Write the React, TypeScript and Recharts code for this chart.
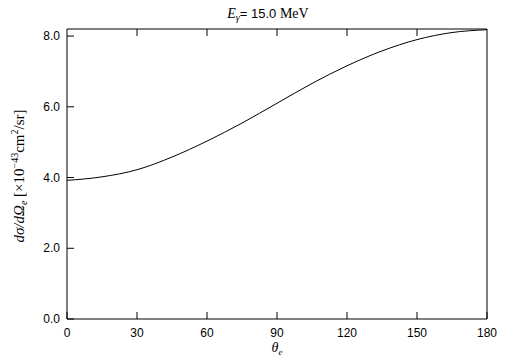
import { LineChart, Line, XAxis, YAxis } from "recharts";

const thetaDeg = [0, 15, 30, 45, 60, 75, 90, 105, 120, 135, 150, 165, 180];
const crossSection = [3.92, 4.02, 4.22, 4.58, 5.03, 5.54, 6.1, 6.66, 7.16, 7.58, 7.9, 8.1, 8.18];
const xTicks = [0, 30, 60, 90, 120, 150, 180];
const yTicks = [0, 2, 4, 6, 8];

const data = thetaDeg.map((t, i) => ({ theta: t, value: crossSection[i] }));

const sans = "'Liberation Sans', Arial, sans-serif";
const serif = "'Liberation Serif', 'Times New Roman', serif";
const tickLen = 7;

function BottomTick({ x, y, payload }: any) {
  return (
    <g>
      <line x1={x} y1={y} x2={x} y2={y - tickLen} stroke="#000" />
      <text x={x} y={y + 18} textAnchor="middle" fontFamily={sans} fontSize={12} fill="#000">
        {payload.value}
      </text>
    </g>
  );
}

function TopTick({ x, y }: any) {
  return <line x1={x} y1={y} x2={x} y2={y + tickLen} stroke="#000" />;
}

function LeftTick({ x, y, payload }: any) {
  return (
    <g>
      <line x1={x} y1={y} x2={x + tickLen} y2={y} stroke="#000" />
      <text x={x - 7} y={y + 4} textAnchor="end" fontFamily={sans} fontSize={12} fill="#000">
        {Number(payload.value).toFixed(1)}
      </text>
    </g>
  );
}

function RightTick({ x, y }: any) {
  return <line x1={x} y1={y} x2={x - tickLen} y2={y} stroke="#000" />;
}

function Title({ viewBox }: any) {
  const cx = viewBox.x + viewBox.width / 2 - 9;
  return (
    <text x={cx} y={18} textAnchor="middle" fontSize={13} fill="#000">
      <tspan fontFamily={serif} fontStyle="italic" fontSize={14}>E</tspan>
      <tspan fontFamily={serif} fontStyle="italic" fontSize={10} dy={3}>γ</tspan>
      <tspan fontFamily={sans} dy={-3}>= 15.0 </tspan>
      <tspan fontFamily={serif} fontSize={14}>MeV</tspan>
    </text>
  );
}

function XTitle({ viewBox }: any) {
  const cx = viewBox.x + viewBox.width / 2;
  return (
    <text x={cx} y={352} textAnchor="middle" fill="#000" fontFamily={serif} fontStyle="italic">
      <tspan fontSize={14}>θ</tspan>
      <tspan fontSize={9} dy={3}>e</tspan>
    </text>
  );
}

function YTitle() {
  const cy = 176;
  const cx = 24;
  return (
    <text
      x={cx}
      y={cy}
      transform={`rotate(-90 ${cx} ${cy})`}
      textAnchor="middle"
      fill="#000"
      fontFamily={serif}
      fontSize={15}
    >
      <tspan fontStyle="italic">dσ/dΩ</tspan>
      <tspan fontStyle="italic" fontSize={10} dy={3}>e</tspan>
      <tspan dy={-3}> [×10</tspan>
      <tspan fontSize={10} dy={-6}>−43</tspan>
      <tspan dy={6}>cm</tspan>
      <tspan fontSize={10} dy={-6}>2</tspan>
      <tspan dy={6}>/sr]</tspan>
    </text>
  );
}

export default function App() {
  return (
    <div style={{ position: "absolute", left: 0, top: 0, width: 505, height: 361, background: "#fff" }}>
      <LineChart width={505} height={361} data={data} margin={{ top: 0, right: 0, bottom: 0, left: 0 }}>
        <XAxis
          xAxisId="b"
          dataKey="theta"
          type="number"
          domain={[0, 180]}
          ticks={xTicks}
          orientation="bottom"
          height={42}
          tickSize={0}
          tickMargin={0}
          tickLine={false}
          axisLine={{ stroke: "#000" }}
          tick={<BottomTick />}
          label={<XTitle />}
          interval={0}
        />
        <XAxis
          xAxisId="t"
          dataKey="theta"
          type="number"
          domain={[0, 180]}
          ticks={xTicks.slice(1, -1)}
          orientation="top"
          height={29}
          tickSize={0}
          tickMargin={0}
          tickLine={false}
          axisLine={{ stroke: "#000" }}
          tick={<TopTick />}
          label={<Title />}
          interval={0}
        />
        <YAxis
          yAxisId="l"
          type="number"
          domain={[0, 8.2]}
          ticks={yTicks}
          width={67}
          tickSize={0}
          tickMargin={0}
          tickLine={false}
          axisLine={{ stroke: "#000" }}
          tick={<LeftTick />}
          label={<YTitle />}
          interval={0}
        />
        <YAxis
          yAxisId="r"
          orientation="right"
          type="number"
          domain={[0, 8.2]}
          ticks={yTicks.slice(1)}
          width={18}
          tickSize={0}
          tickMargin={0}
          tickLine={false}
          axisLine={{ stroke: "#000" }}
          tick={<RightTick />}
          interval={0}
        />
        <Line
          xAxisId="b"
          yAxisId="l"
          type="monotone"
          dataKey="value"
          stroke="#000"
          strokeWidth={1}
          dot={false}
          isAnimationActive={false}
        />
      </LineChart>
    </div>
  );
}
